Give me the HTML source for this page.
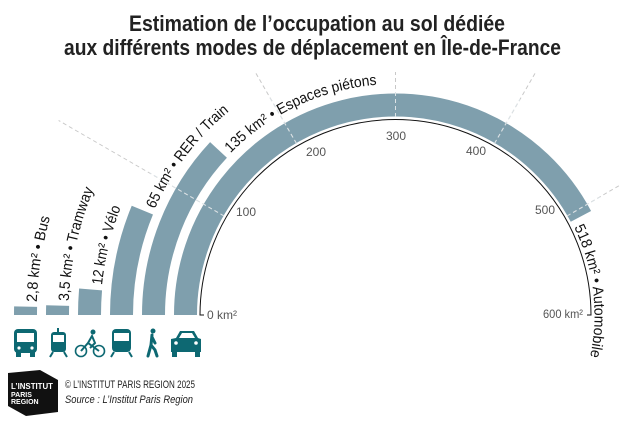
<!DOCTYPE html>
<html><head><meta charset="utf-8"><style>
html,body{margin:0;padding:0;background:#fff}
svg{display:block}
text{font-family:"Liberation Sans Narrow","Liberation Sans",sans-serif}
</style></head><body>
<svg width="621" height="430" viewBox="0 0 621 430" xmlns="http://www.w3.org/2000/svg">
<defs>
<path id="c359" d="M36.5,315 A359,359 0 0 1 754.5,315 A359,359 0 0 1 36.5,315"/>
<path id="c327" d="M68.5,315 A327,327 0 0 1 722.5,315 A327,327 0 0 1 68.5,315"/>
<path id="c295" d="M100.5,315 A295,295 0 0 1 690.5,315 A295,295 0 0 1 100.5,315"/>
<path id="c263" d="M132.5,315 A263,263 0 0 1 658.5,315 A263,263 0 0 1 132.5,315"/>
<path id="c231" d="M164.5,315 A231,231 0 0 1 626.5,315 A231,231 0 0 1 164.5,315"/>
<path id="c199" d="M196.5,315 A199,199 0 0 1 594.5,315 A199,199 0 0 1 196.5,315"/>
</defs>
<!-- title -->
<text x="129" y="31" font-size="22" font-weight="bold" fill="#222" textLength="376" lengthAdjust="spacingAndGlyphs">Estimation de l’occupation au sol dédiée</text>
<text x="64" y="55" font-size="22" font-weight="bold" fill="#222" textLength="497" lengthAdjust="spacingAndGlyphs">aux différents modes de déplacement en Île-de-France</text>
<!-- bars -->
<g fill="none" stroke="#7f9fad" stroke-width="23">
<path d="M25.5,315 A370,370 0 0 1 25.6,306.6"/>
<path d="M57.5,315 A338,338 0 0 1 57.63,305.56"/>
<path d="M89.5,315 A306,306 0 0 1 90.57,289.4"/>
<path d="M121.5,315 A274,274 0 0 1 142.36,210.15"/>
<path d="M153.5,315 A242,242 0 0 1 218.51,149.96"/>
<path d="M185.5,315 A210,210 0 0 1 580.92,216.41"/>
</g>
<!-- dashed gridlines -->
<g stroke="#c8c8c8" stroke-width="1" stroke-dasharray="4 3">
<line x1="224" y1="216" x2="58.6" y2="120.5"/>
<line x1="296.5" y1="143.5" x2="256" y2="73.4"/>
<line x1="395.5" y1="117" x2="395.5" y2="72"/>
<line x1="494.5" y1="143.5" x2="535.5" y2="72.5"/>
<line x1="567" y1="216" x2="622" y2="184"/>
</g>
<g stroke="#dfe6ea" stroke-width="1" stroke-dasharray="4 3" opacity="0.9">
<line x1="224" y1="216" x2="150" y2="173"/>
<line x1="296.5" y1="143.5" x2="270" y2="98"/>
<line x1="395.5" y1="117" x2="395.5" y2="90"/>
<line x1="494.5" y1="143.5" x2="520" y2="99"/>
<line x1="567" y1="216" x2="600" y2="197"/>
</g>
<!-- axis -->
<path d="M204,315 L200,315 A195.5,195.5 0 0 1 591,315 L587,315" fill="none" stroke="#111" stroke-width="1"/>
<g font-size="12" fill="#555">
<text x="207" y="319" textLength="30" lengthAdjust="spacingAndGlyphs">0 km²</text>
<text x="236" y="216" textLength="20" lengthAdjust="spacingAndGlyphs">100</text>
<text x="306" y="156" textLength="20" lengthAdjust="spacingAndGlyphs">200</text>
<text x="386" y="140" textLength="20" lengthAdjust="spacingAndGlyphs">300</text>
<text x="466" y="155" textLength="20" lengthAdjust="spacingAndGlyphs">400</text>
<text x="535" y="214" textLength="20" lengthAdjust="spacingAndGlyphs">500</text>
<text x="543" y="318" textLength="40" lengthAdjust="spacingAndGlyphs">600 km²</text>
</g>
<!-- labels -->
<g font-size="15" fill="#111">
<text><textPath href="#c359" startOffset="13" textLength="86" lengthAdjust="spacingAndGlyphs">2,8 km² • Bus</textPath></text>
<text><textPath href="#c327" startOffset="14" textLength="115" lengthAdjust="spacingAndGlyphs">3,5 km² • Tramway</textPath></text>
<text><textPath href="#c295" startOffset="30" textLength="80" lengthAdjust="spacingAndGlyphs">12 km² • Vélo</textPath></text>
<text><textPath href="#c263" startOffset="109" textLength="124" lengthAdjust="spacingAndGlyphs">65 km² • RER / Train</textPath></text>
<text><textPath href="#c231" startOffset="179" textLength="165" lengthAdjust="spacingAndGlyphs">135 km² • Espaces piétons</textPath></text>
<text><textPath href="#c199" startOffset="534" textLength="133" lengthAdjust="spacingAndGlyphs">518 km² • Automobile</textPath></text>
</g>
<!-- icons -->
<g fill="#0d6872">
<rect x="14" y="329" width="23" height="24" rx="4"/>
<rect x="16" y="352" width="5" height="5"/><rect x="30" y="352" width="5" height="5"/>
<rect x="17" y="333" width="17" height="9" fill="#fff"/>
<circle cx="19" cy="348" r="1.6" fill="#fff"/><circle cx="32" cy="348" r="1.6" fill="#fff"/>
<rect x="57" y="328" width="2" height="4"/>
<rect x="51" y="332" width="15" height="20" rx="3"/>
<rect x="53" y="335" width="11" height="7" fill="#fff"/>
<path d="M53,352 L50,357 M64,352 L67,357" stroke="#0d6872" stroke-width="2"/>
<circle cx="81" cy="351" r="5.5" fill="none" stroke="#0d6872" stroke-width="1.6"/>
<circle cx="99" cy="351" r="5.5" fill="none" stroke="#0d6872" stroke-width="1.6"/>
<circle cx="93" cy="332" r="2.5"/>
<path d="M81,351 L88,343 L99,351 M88,343 L92,336 L95,343 L90,348" fill="none" stroke="#0d6872" stroke-width="2"/>
<rect x="112" y="329" width="19" height="23" rx="4"/>
<rect x="114" y="333" width="15" height="8" fill="#fff"/>
<path d="M114,352 L111,357 M129,352 L132,357" stroke="#0d6872" stroke-width="2"/>
<circle cx="153" cy="331" r="2.5"/>
<path d="M152,335 L151,345 L148,356 M151,345 L155,350 L157,356 M152,337 L155,343" fill="none" stroke="#0d6872" stroke-width="3" stroke-linecap="round"/>
<path d="M176,338 L180,331 L194,331 L198,338 L201,339 L201,352 L171,352 L171,339 Z"/>
<rect x="172" y="351" width="5" height="6"/><rect x="195" y="351" width="5" height="6"/>
<path d="M179,338 L182,333 L192,333 L195,338 Z" fill="#fff"/>
<circle cx="176" cy="343" r="1.8" fill="#fff"/><circle cx="196" cy="343" r="1.8" fill="#fff"/>
</g>
<!-- logo -->
<path d="M8,373 L40,370 L58,380 L58,412 L26,416 L8,406 Z" fill="#111"/>
<text x="11" y="389" font-size="8" font-weight="bold" fill="#fff" textLength="42" lengthAdjust="spacingAndGlyphs">L’INSTITUT</text>
<text x="11" y="397" font-size="7" font-weight="bold" fill="#fff">PARIS</text>
<text x="11" y="404" font-size="7" font-weight="bold" fill="#fff">REGION</text>
<text x="65" y="388" font-size="11" fill="#222" textLength="130" lengthAdjust="spacingAndGlyphs">© L’INSTITUT PARIS REGION 2025</text>
<text x="65" y="403" font-size="11" font-style="italic" fill="#222" textLength="128" lengthAdjust="spacingAndGlyphs">Source : L’Institut Paris Region</text>
</svg>
</body></html>
